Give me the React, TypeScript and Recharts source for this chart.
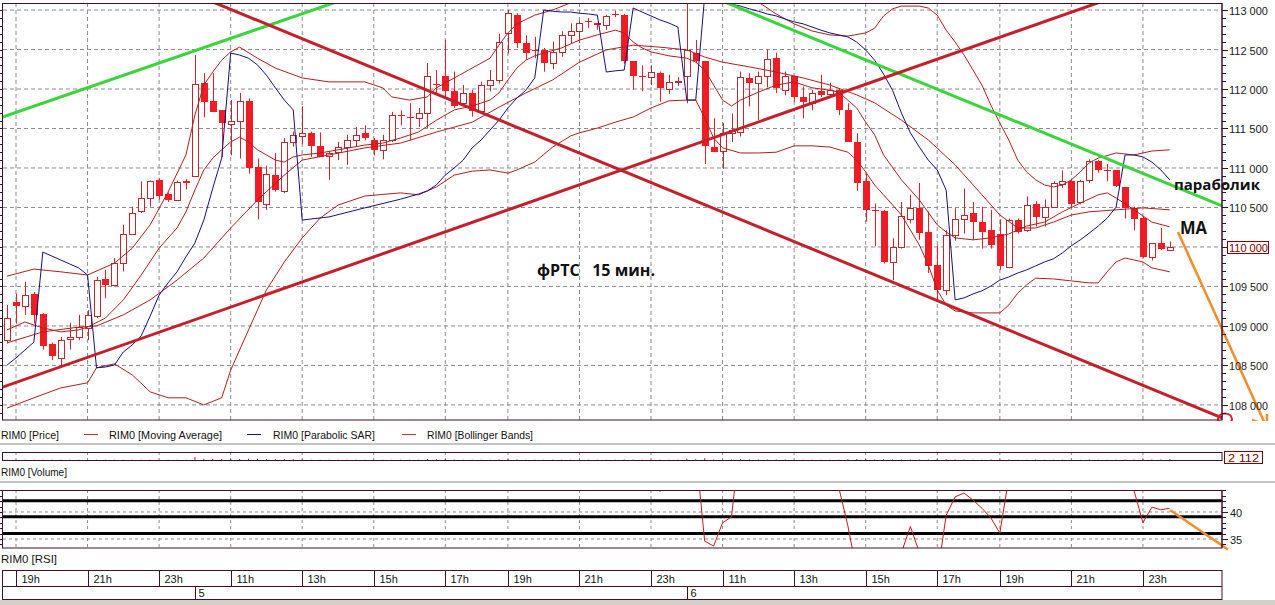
import React from 'react';
import { ComposedChart, Bar, Line, XAxis, YAxis, CartesianGrid, ReferenceLine, ReferenceDot } from 'recharts';

// ---------- data ----------
const opens = [108820,109300,109250,109400,109150,108770,108600,108830,108860,108970,
109120,109600,109520,109800,110170,110450,110620,110850,110670,110600,
110830,110900,112070,111850,111730,111560,111590,111850,111010,110540,
110910,110710,111330,111410,111440,111280,111150,111200,111270,111350,
111440,111360,111230,111360,111670,111640,111630,111690,112060,112160,
111970,111820,111950,111720,112050,112110,112710,112940,112580,112490,
112500,112330,112470,112680,112740,112855,112830,112810,112950,112940,
112350,112165,112150,112200,112000,112100,112160,112450,112350,111260,
111210,111440,111450,112140,112070,112160,112390,111990,112160,111900,
111820,111970,111940,111990,111740,111330,110830,110470,110460,109810,
110000,110360,110490,110190,109770,109460,110150,110360,110430,110320,
110210,110160,109740,110340,110220,110540,110380,110510,110800,110830,
110570,110850,111090,110970,110970,110760,110490,110370,109870,110050,
109960];
const highs = [109265,109410,109560,109430,109160,108790,108860,109040,109140,109200,
109620,109710,109860,110280,110510,110830,110840,110870,110690,110840,
110860,112430,112200,112200,111730,111860,111950,111880,111120,111030,
111190,111380,111460,111780,111460,111450,111210,111330,111420,111520,
111540,111380,111420,111710,111730,111820,111760,112330,112240,112620,
112220,112050,111990,112090,112240,112700,113000,112960,112680,112660,
112520,112600,112730,112830,112870,112900,112830,112940,112990,112950,
112350,112300,112300,112220,112180,112150,113150,112620,112350,111630,
111570,111690,112220,112200,112220,112500,112460,112220,112160,112030,
111990,112180,112080,112000,111820,111440,110930,110550,110470,110110,
110570,110660,110810,110450,110020,110210,110490,110740,110570,110510,
110470,110350,110360,110360,110640,110580,110600,110830,110970,110850,
110850,111110,111100,111050,110970,110760,110510,110380,110050,110240,
110070];
const lows = [108780,109030,109140,109030,108700,108570,108490,108700,108820,108820,
109100,109350,109500,109690,110150,110430,110510,110600,110570,110600,
110730,110900,111640,111710,111140,111160,111120,110930,110350,110470,
110700,110680,111270,111300,111140,111140,110850,111100,111040,111270,
111350,111160,111110,111330,111540,111350,111520,111500,111950,111900,
111760,111780,111650,111710,111970,112070,112450,112520,112370,112390,
112220,112250,112410,112580,112580,112770,112750,112750,112910,112320,
111990,111970,112050,111840,111940,112040,111820,112330,111050,111200,
110990,111330,111400,111780,111610,112020,111950,111920,111840,111630,
111730,111900,111900,111670,111330,110710,110320,110010,109790,109580,
109980,110300,110090,109670,109330,109390,110080,110170,110090,109980,
109980,109710,109730,110170,110190,110260,110260,110500,110750,110490,
110540,110810,110940,110830,110760,110360,110210,109860,109830,109960,
109960];
const closes = [109100,109250,109390,109140,108740,108620,108820,108860,108990,109140,
109580,109520,109800,110170,110430,110620,110840,110650,110600,110820,
110810,112060,111830,111710,111570,111600,111850,111000,110570,110920,
110720,111330,111420,111440,111280,111140,111190,111270,111350,111420,
111380,111230,111360,111670,111660,111630,111690,112160,112050,111970,
111790,111950,111720,112050,112110,112590,112960,112580,112460,112480,
112330,112470,112680,112740,112840,112845,112810,112930,112940,112350,
112160,112160,112210,112010,112090,112105,112490,112350,111280,111200,
111440,111480,112150,112070,112160,112380,112010,112160,111900,111830,
111950,111920,111990,111740,111330,110810,110470,110460,109810,110000,
110390,110490,110180,109760,109460,110150,110360,110410,110320,110190,
110020,109760,110340,110190,110530,110380,110510,110810,110840,110540,
110830,111090,110970,110960,110770,110490,110360,109870,110050,109970,
110000];

const maPoints: [number, number][] = [[0,108950],[2,109050],[4,108975],[6,108925],[8,108950],[9,108985],[11,109100],[13,109330],[15,109645],[17,109985],[19,110240],[20,110445],[21,110720],[22,110975],[23,111125],[24,111230],[25,111330],[26,111390],[27,111330],[28,111230],[29,111165],[30,111100],[31,111075],[32,111140],[33,111165],[35,111190],[37,111230],[40,111290],[42,111315],[44,111380],[46,111455],[48,111605],[50,111735],[52,111785],[54,111860],[55,111950],[56,112115],[57,112265],[58,112365],[59,112420],[60,112455],[62,112520],[64,112620],[66,112685],[68,112745],[69,112710],[70,112595],[71,112520],[72,112470],[74,112420],[76,112390],[77,112340],[78,112240],[79,112050],[80,111860],[81,111785],[82,111860],[84,111960],[86,112050],[88,112090],[90,112015],[92,111985],[93,111960],[94,111860],[95,111760],[96,111580],[97,111420],[98,111165],[100,110850],[102,110595],[104,110280],[105,110190],[106,110115],[108,110090],[110,110115],[112,110165],[114,110265],[116,110315],[118,110445],[120,110555],[122,110660],[123,110685],[124,110620],[126,110470],[128,110315],[130,110255]];

const bbUpperPoints: [number, number][] = [[0,109630],[3,109720],[6,109685],[9,109645],[12,109795],[14,109985],[16,110280],[18,110695],[20,111165],[21,111670],[22,112050],[23,112215],[24,112365],[25,112470],[26,112530],[28,112390],[30,112265],[33,112140],[36,112090],[40,112090],[42,112015],[43,111900],[45,111860],[47,111900],[48,112015],[50,112140],[52,112265],[54,112390],[55,112555],[56,112710],[57,112825],[59,112935],[61,113000],[63,113090],[64,113205],[66,113315],[70,113380],[74,113355],[78,113280],[80,113305],[82,113230],[84,113100],[86,112950],[88,112825],[90,112735],[92,112685],[94,112670],[96,112710],[97,112770],[98,112925],[99,113015],[100,113050],[102,113050],[103,113025],[104,112935],[105,112745],[106,112595],[107,112430],[108,112240],[109,112050],[110,111795],[111,111570],[112,111355],[113,111100],[114,110950],[115,110850],[116,110785],[117,110760],[118,110785],[119,110850],[120,110950],[121,111065],[122,111125],[124,111190],[126,111165],[128,111215],[130,111230]];

const bbMidPoints: [number, number][] = [[0,108785],[4,108925],[8,108985],[10,109000],[13,109140],[16,109330],[19,109580],[22,109860],[25,110240],[28,110595],[31,110910],[33,111100],[36,111165],[40,111255],[44,111315],[48,111455],[52,111580],[55,111770],[58,111950],[61,112115],[64,112340],[67,112495],[70,112555],[73,112530],[76,112495],[78,112405],[80,112340],[83,112280],[86,112215],[89,112140],[92,112050],[95,111925],[97,111825],[100,111605],[103,111355],[106,111040],[109,110660],[111,110405],[113,110240],[115,110240],[117,110315],[119,110405],[121,110445],[124,110470],[127,110495],[130,110470]];

const bbLowerPoints: [number, number][] = [[0,107960],[3,108090],[6,108215],[9,108280],[10,108470],[12,108520],[14,108380],[16,108165],[18,108090],[20,108090],[22,108000],[24,108090],[25,108440],[27,108950],[29,109455],[31,109810],[33,110115],[35,110365],[37,110530],[40,110645],[44,110685],[46,110660],[48,110760],[50,110910],[52,110960],[54,110975],[56,110935],[57,110975],[59,111075],[61,111265],[63,111405],[64,111445],[66,111505],[68,111580],[70,111645],[72,111760],[74,111850],[76,111860],[77,111860],[78,111635],[79,111380],[80,111255],[82,111190],[84,111190],[86,111200],[88,111280],[90,111280],[92,111265],[94,111200],[95,111100],[96,110950],[97,110785],[98,110660],[100,110405],[102,110025],[103,109770],[104,109455],[105,109265],[106,109190],[108,109165],[111,109165],[112,109265],[113,109415],[114,109520],[115,109605],[117,109595],[119,109570],[121,109545],[122,109545],[123,109685],[124,109810],[125,109860],[127,109810],[128,109735],[130,109685]];

const sarPoints: [number, number][] = [[0,108505],[1,108595],[2,108695],[3,108795],[4,109935],[5,109885],[6,109835],[7,109785],[8,109735],[9,109645],[10,108470],[11,108480],[12,108505],[13,108670],[14,108760],[15,108875],[16,109125],[17,109390],[18,109545],[19,109685],[20,109875],[21,110050],[22,110340],[23,110745],[24,111125],[25,112455],[26,112430],[27,112390],[28,112305],[29,112175],[30,112015],[31,111860],[32,111735],[33,110340],[34,110355],[36,110380],[40,110495],[44,110605],[46,110670],[47,110710],[48,110785],[49,110910],[50,111000],[51,111100],[52,111255],[53,111355],[54,111480],[55,111605],[56,111760],[57,111885],[58,111985],[59,112140],[60,113000],[61,112985],[62,112975],[63,112975],[64,112960],[65,112950],[66,112935],[67,112215],[68,112230],[69,112240],[70,113025],[71,112975],[72,112925],[73,112875],[74,112835],[75,112785],[76,111860],[77,111860],[78,113175],[79,113150],[80,113100],[81,113075],[82,113050],[83,113015],[84,112985],[85,112950],[86,112925],[87,112885],[88,112850],[89,112825],[90,112785],[91,112745],[92,112710],[93,112685],[94,112660],[95,112595],[96,112495],[97,112365],[98,112190],[99,111985],[100,111695],[101,111445],[102,111265],[103,111100],[104,110975],[105,110720],[106,109330],[107,109355],[108,109405],[109,109445],[110,109505],[111,109580],[112,109620],[113,109670],[114,109710],[115,109760],[116,109810],[117,109850],[118,109925],[119,110015],[120,110090],[121,110175],[122,110265],[123,110365],[124,110505],[125,111165],[126,111165],[127,111140],[128,111075],[129,110975],[130,110850]];

const rsiValues = [52,54,56,52,47,46,49,50,52,54,
60,59,63,67,70,72,74,71,70,72,
72,80,75,73,70,70,72,60,55,58,
56,61,62,62,60,58,58,59,60,61,
60,58,60,64,63,63,64,70,68,66,
63,65,61,65,66,72,76,68,65,65,
62,64,67,68,70,70,69,71,71,58,
53,52,50.5,43.8,48,48.5,55,51.5,34.6,33.7,
38.0,39.1,54,53,54,57,51,53,49,48,
50,49.5,50,44.5,37.5,29,25,25,20,24,
32.5,37.3,32.5,26,28,39.4,42.8,43.5,42.2,40.7,
38.9,36.1,46.3,44.0,50,47,49,55,56,50,
55,60,57,57,52,50,44.0,38.0,40.9,40.4,
40.7];

const volumes = [600,500,700,650,900,700,600,500,450,500,800,600,700,900,800,700,600,500,400,400,500,
9000,
4000,3000,3200,2800,3000,3600,3400,2600,2400,3000,2200,2000,
800,900,700,600,700,800,600,700,600,900,700,600,800,
3200,2600,3000,
1200,900,1000,900,800,1500,2000,1400,1000,800,900,800,900,1000,900,700,600,700,600,1800,1500,900,800,900,700,600,
4000,2500,5200,
1800,1600,1400,2200,1400,1200,1300,1400,1200,1100,1000,900,800,900,1000,
2500,3200,3000,1800,2600,
1500,1600,1200,1400,1800,2000,2400,1500,1200,1000,1100,1200,1300,1400,1100,1000,1200,900,1000,1100,900,1000,1200,900,800,1000,1400,1200,2200,1600,1200,2112];

const hourTickIdx = [1,9,17,25,33,41,49,56,64,72,80,88,96,104,111,119,127];
const hourTickLabels = ['19h','21h','23h','11h','13h','15h','17h','19h','21h','23h','11h','13h','15h','17h','19h','21h','23h'];
const dayTickIdx = [21,76];
const dayTickLabels = ['5','6'];

const priceGrid = [108000,108500,109000,109500,110000,110500,111000,111500,112000,112500,113000];
const lastPrice = 110000;
const lastVolume = 2112;
const rsiLevels = [42.1, 39.1, 36.0];
const rsiGrid = [35, 40];

// annotation lines (candle index, price)
const greenUpLine = [{ x: -0.79, y: 111633 }, { x: 37.45, y: 113127 }];
const greenDownLine = [{ x: 79.7, y: 113127 }, { x: 135.84, y: 110519 }];
const redDownLine = [{ x: 22.47, y: 113127 }, { x: 135.84, y: 107835 }];
const redUpLine = [{ x: -1.0, y: 108205 }, { x: 122.87, y: 113127 }];
const orangeLine = [{ x: 130.92, y: 110189 }, { x: 140.76, y: 107733 }];
const orangeHeadA = [{ x: 139.19, y: 107809 }, { x: 140.87, y: 107746 }];
const orangeHeadB = [{ x: 140.87, y: 107885 }, { x: 140.87, y: 107657 }];
const orangeRsiLine = [{ x: 130.03, y: 40.37 }, { x: 136.5, y: 33.05 }];
const circleAt = { x: 136.17, y: 107822 };
const notes = [
  { x: 130.47, y: 110727, text: 'параболик', size: 14, len: 86 },
  { x: 131.14, y: 110158, text: 'MA', size: 17, len: 27 },
  { x: 59.25, y: 109632, text: 'фРТС   15 мин.', size: 16, len: 118 },
];

// ---------- helpers ----------
const X_DOMAIN: [number, number] = [-0.454, 135.84];
const Y_DOMAIN: [number, number] = [107809, 113089];
const RSI_DOMAIN: [number, number] = [33.33, 44.07];
const VOL_DOMAIN: [number, number] = [0, 24000];

const FONT = "'Liberation Sans', Arial, 'DejaVu Sans', sans-serif";
const BOLD = "'Open Sans', 'Noto Sans', 'DejaVu Sans', sans-serif";
const FRAME = '#3c1030';
const GRID = '#8c8c8c';
const FILLED = '#ee1c24';
const HOLLOW = '#c0282d';
const IND = '#b01e1e';
const SAR = '#12127a';
const AXIS_X = 1222;

const toMap = (pts: [number, number][]) => new Map<number, number>(pts);
const maMap = toMap(maPoints);
const upMap = toMap(bbUpperPoints);
const midMap = toMap(bbMidPoints);
const lowMap = toMap(bbLowerPoints);
const sarMap = toMap(sarPoints);

const rows = closes.map((c, i) => ({
  i,
  o: opens[i],
  h: highs[i],
  l: lows[i],
  c,
  hl: [lows[i], highs[i]],
  ma: maMap.has(i) ? maMap.get(i) : null,
  bbUp: upMap.has(i) ? upMap.get(i) : null,
  bbMid: midMap.has(i) ? midMap.get(i) : null,
  bbLow: lowMap.has(i) ? lowMap.get(i) : null,
  sar: sarMap.has(i) ? sarMap.get(i) : null,
  rsi: rsiValues[i],
  vol: volumes[i],
}));

const priceTicks: number[] = [];
for (let v = 107900; v <= 113000; v += 100) priceTicks.push(v);
const rsiTicks: number[] = [];
for (let v = 34; v <= 44; v += 1) rsiTicks.push(v);
const timeTicks = [...hourTickIdx, ...dayTickIdx].sort((a, b) => a - b);

const fmtPrice = (v: number) => `${Math.floor(v / 1000)} ${String(v % 1000).padStart(3, '0')}`;

const CandleShape = (props: any) => {
  const { x, y, width, height, payload } = props;
  if (!payload || height == null || isNaN(height)) return null;
  const { o, h, l, c } = payload;
  const k = height / (h - l);
  const cx = Math.round(x + width / 2);
  const up = c >= o;
  const top = y + (h - Math.max(o, c)) * k;
  const bot = y + (h - Math.min(o, c)) * k;
  const bt = Math.round(top);
  const bb = Math.round(bot);
  const col = up ? HOLLOW : FILLED;
  return (
    <g>
      <line x1={cx + 0.5} x2={cx + 0.5} y1={y} y2={y + height} stroke={col} strokeWidth={1} />
      {up ? (
        <rect x={cx - 2.5} y={bt + 0.5} width={6} height={Math.max(bb - bt, 1)} fill="#fff" stroke={col} strokeWidth={1} />
      ) : (
        <rect x={cx - 3} y={bt} width={7} height={Math.max(bb - bt, 1)} fill={col} />
      )}
    </g>
  );
};

const PriceTick = (props: any) => {
  const { y, payload } = props;
  const v = payload.value;
  const yy = Math.round(y) + 0.5;
  const major = v % 500 === 0;
  return (
    <g>
      <line x1={0} x2={2.5} y1={yy} y2={yy} stroke={FRAME} />
      <line x1={AXIS_X} x2={AXIS_X + (major ? 6 : 4)} y1={yy} y2={yy} stroke={FRAME} />
      {major && v === lastPrice && (
        <rect x={AXIS_X + 5.5} y={yy - 6} width={41} height={12} fill="#fff" stroke="#800000" />
      )}
      {major && (
        <text x={AXIS_X + 7} y={yy + 4.5} fontSize={11} fontFamily={FONT}
          fill={v === lastPrice ? '#800000' : '#1a1a1a'} textLength={39} lengthAdjust="spacingAndGlyphs">
          {fmtPrice(v)}
        </text>
      )}
    </g>
  );
};

const RsiTick = (props: any) => {
  const { y, payload } = props;
  const v = payload.value;
  const yy = Math.round(y) + 0.5;
  const major = v % 5 === 0;
  return (
    <g>
      <line x1={0} x2={2.5} y1={yy} y2={yy} stroke={FRAME} />
      <line x1={AXIS_X} x2={AXIS_X + (major ? 6 : 4)} y1={yy} y2={yy} stroke={FRAME} />
      {major && (
        <text x={AXIS_X + 8} y={yy + 4.5} fontSize={11} fontFamily={FONT} fill="#1a1a1a">{v}</text>
      )}
    </g>
  );
};

const RSI_TOP = 490;
const TimeTick = (props: any) => {
  const { x, payload } = props;
  const v = payload.value;
  const rx = Math.round(x) + 0.5;
  const hi = hourTickIdx.indexOf(v);
  const di = dayTickIdx.indexOf(v);
  const out: any[] = [];
  if (hi >= 0) {
    out.push(<line key="h" x1={rx} x2={rx} y1={570 - RSI_TOP} y2={586 - RSI_TOP} stroke={FRAME} />);
    out.push(<text key="ht" x={rx + 5} y={583 - RSI_TOP} fontSize={11} fontFamily={FONT} fill="#111">{hourTickLabels[hi]}</text>);
  }
  if (di >= 0) {
    out.push(<line key="d" x1={rx} x2={rx} y1={586 - RSI_TOP} y2={600 - RSI_TOP} stroke={FRAME} />);
    out.push(<text key="dt" x={rx + 3} y={597 - RSI_TOP} fontSize={11} fontFamily={FONT} fill="#111">{dayTickLabels[di]}</text>);
  }
  return <g>{out}</g>;
};

const noteShape = (n: typeof notes[number]) => (p: any) => (
  <text x={p.cx} y={p.cy} fontSize={n.size} fontWeight={700} fontFamily={BOLD} fill="#111"
    style={{ whiteSpace: 'pre' }} textLength={n.len} lengthAdjust="spacingAndGlyphs">{n.text}</text>
);

const circleShape = (p: any) => (
  <ellipse cx={p.cx} cy={p.cy} rx={7} ry={5.5} fill="none" stroke="#e0202a" strokeWidth={2} />
);

const Legend = () => (
  <svg width={1275} height={605} style={{ position: 'absolute', left: 0, top: 0, pointerEvents: 'none' }}>
    <rect x={0} y={600} width={1275} height={5} fill="#d4d0c8" />
    <rect x={2.5} y={3.5} width={1219.5} height={416.5} fill="none" stroke={FRAME} />
    <line x1={0} x2={1275} y1={444} y2={444} stroke="#c4c4c4" strokeWidth={2} />
    <line x1={0} x2={1275} y1={482} y2={482} stroke="#c4c4c4" strokeWidth={2} />
    <rect x={2.5} y={452.5} width={1219.5} height={8} fill="none" stroke={FRAME} />
    <rect x={2.5} y={490.5} width={1219.5} height={57.5} fill="none" stroke={FRAME} />
    <rect x={2.5} y={570.5} width={1219.5} height={29} fill="none" stroke={FRAME} />
    <line x1={2.5} x2={1222} y1={586.5} y2={586.5} stroke={FRAME} />
    <g fontFamily={FONT} fontSize={11} fill="#111">
      <text x={1} y={439} textLength={58} lengthAdjust="spacingAndGlyphs">RIM0 [Price]</text>
      <line x1={84} x2={98} y1={434.5} y2={434.5} stroke="#d03030" />
      <text x={109} y={439} textLength={113} lengthAdjust="spacingAndGlyphs">RIM0 [Moving Average]</text>
      <line x1={247} x2={261} y1={434.5} y2={434.5} stroke={SAR} />
      <text x={273} y={439} textLength={102} lengthAdjust="spacingAndGlyphs">RIM0 [Parabolic SAR]</text>
      <line x1={402} x2={416} y1={434.5} y2={434.5} stroke="#d03030" />
      <text x={427} y={439} textLength={106} lengthAdjust="spacingAndGlyphs">RIM0 [Bollinger Bands]</text>
      <text x={1} y={476} textLength={66} lengthAdjust="spacingAndGlyphs">RIM0 [Volume]</text>
      <text x={1} y={563} textLength={56} lengthAdjust="spacingAndGlyphs">RIM0 [RSI]</text>
    </g>
    <rect x={1224.5} y={451.5} width={38} height={12} fill="#fff" stroke="#800000" />
    <text x={1228} y={461.5} fontFamily={FONT} fontSize={11} fill="#800000" textLength={31} lengthAdjust="spacingAndGlyphs">
      {fmtPrice(lastVolume).replace(/^(\d) 0*/, '$1 ')}
    </text>
  </svg>
);

export default function App() {
  return (
    <div style={{ position: 'absolute', left: 0, top: 0, width: 1275, height: 605, background: '#fff', overflow: 'hidden' }}>
      <div style={{ position: 'absolute', left: 0, top: 0 }}>
        <ComposedChart width={1275} height={421} data={rows} margin={{ top: 3, right: 3, bottom: 1, left: 3 }}>
          <CartesianGrid stroke={GRID} strokeDasharray="4 3" horizontalValues={priceGrid} verticalValues={hourTickIdx} />
          <XAxis dataKey="i" type="number" domain={X_DOMAIN} allowDataOverflow hide ticks={hourTickIdx} />
          <YAxis orientation="right" type="number" domain={Y_DOMAIN} allowDataOverflow width={50}
            ticks={priceTicks} interval={0} tick={PriceTick} tickLine={false} axisLine={{ stroke: FRAME }} />
          <Bar dataKey="hl" barSize={7} shape={CandleShape} isAnimationActive={false} />
          <Line dataKey="bbUp" stroke={IND} strokeWidth={1} dot={false} activeDot={false} connectNulls isAnimationActive={false} />
          <Line dataKey="bbMid" stroke={IND} strokeWidth={1} dot={false} activeDot={false} connectNulls isAnimationActive={false} />
          <Line dataKey="bbLow" stroke={IND} strokeWidth={1} dot={false} activeDot={false} connectNulls isAnimationActive={false} />
          <Line dataKey="ma" stroke={IND} strokeWidth={1} dot={false} activeDot={false} connectNulls isAnimationActive={false} />
          <Line dataKey="sar" stroke={SAR} strokeWidth={1} dot={false} activeDot={false} connectNulls isAnimationActive={false} />
          <ReferenceLine segment={greenUpLine} stroke="#3cd43c" strokeWidth={3} ifOverflow="hidden" />
          <ReferenceLine segment={greenDownLine} stroke="#3cd43c" strokeWidth={3} ifOverflow="hidden" />
          <ReferenceLine segment={redDownLine} stroke="#c4202a" strokeWidth={3} ifOverflow="hidden" />
          <ReferenceLine segment={redUpLine} stroke="#c4202a" strokeWidth={3} ifOverflow="hidden" />
          <ReferenceLine segment={orangeLine} stroke="#f28c2c" strokeWidth={2.5} ifOverflow="visible" />
          <ReferenceLine segment={orangeHeadA} stroke="#f28c2c" strokeWidth={2.5} ifOverflow="visible" />
          <ReferenceLine segment={orangeHeadB} stroke="#f28c2c" strokeWidth={2.5} ifOverflow="visible" />
          <ReferenceDot x={circleAt.x} y={circleAt.y} r={6} ifOverflow="visible" shape={circleShape} />
          {notes.map((n) => (
            <ReferenceDot key={n.text} x={n.x} y={n.y} r={0} ifOverflow="visible" shape={noteShape(n)} />
          ))}
        </ComposedChart>
      </div>
      <div style={{ position: 'absolute', left: 0, top: 452 }}>
        <ComposedChart width={1275} height={9} data={rows} margin={{ top: 0, right: 53, bottom: 1, left: 3 }}>
          <CartesianGrid stroke={GRID} strokeDasharray="3 3" horizontalValues={[12000]} verticalValues={hourTickIdx} />
          <XAxis dataKey="i" type="number" domain={X_DOMAIN} allowDataOverflow hide ticks={hourTickIdx} />
          <YAxis type="number" domain={VOL_DOMAIN} allowDataOverflow hide />
          <Bar dataKey="vol" fill="#c01010" barSize={1} isAnimationActive={false} />
        </ComposedChart>
      </div>
      <div style={{ position: 'absolute', left: 0, top: RSI_TOP }}>
        <ComposedChart width={1275} height={111} data={rows} margin={{ top: 0, right: 3, bottom: 0, left: 3 }}>
          <CartesianGrid stroke={GRID} strokeDasharray="3 3" horizontalValues={rsiGrid} verticalValues={hourTickIdx} />
          <XAxis dataKey="i" type="number" domain={X_DOMAIN} allowDataOverflow height={53} ticks={timeTicks}
            interval={0} tick={TimeTick} tickLine={false} axisLine={false} />
          <YAxis orientation="right" type="number" domain={RSI_DOMAIN} allowDataOverflow width={50}
            ticks={rsiTicks} interval={0} tick={RsiTick} tickLine={false} axisLine={{ stroke: FRAME }} />
          {rsiLevels.map((v) => (
            <ReferenceLine key={v} y={v} stroke="#000" strokeWidth={3} />
          ))}
          <Line dataKey="rsi" stroke="#c41a1a" strokeWidth={1} dot={false} activeDot={false} isAnimationActive={false} />
          <ReferenceLine segment={orangeRsiLine} stroke="#f28c2c" strokeWidth={2.5} ifOverflow="visible" />
        </ComposedChart>
      </div>
      <Legend />
    </div>
  );
}
